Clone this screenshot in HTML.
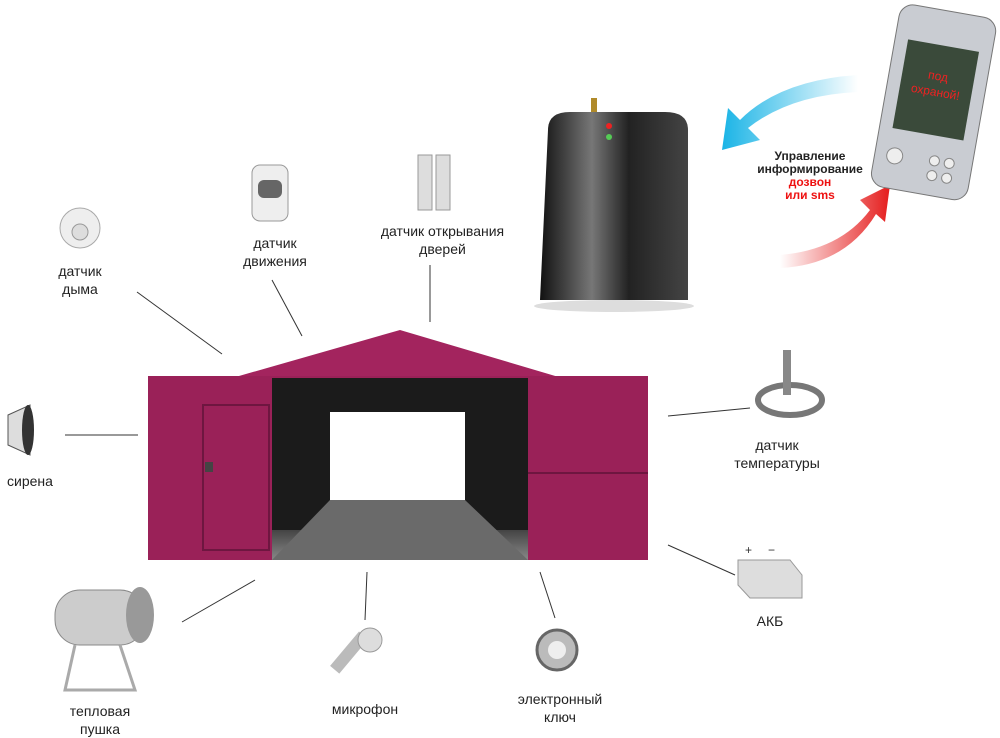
<!DOCTYPE html>
<html><head><meta charset="utf-8"><style>
body{margin:0;width:1000px;height:737px;background:#fff;position:relative;overflow:hidden;font-family:"Liberation Sans","Noto Sans CJK SC",sans-serif}
.a{position:absolute}
.t{position:absolute;font-size:14px;color:#222;text-align:center;line-height:18px}
</style></head><body>
<svg class="a" style="left:0;top:0" width="1000" height="737">
<defs>
<linearGradient id="box" x1="0" x2="1"><stop offset="0" stop-color="#111"/><stop offset=".35" stop-color="#777"/><stop offset=".6" stop-color="#222"/><stop offset="1" stop-color="#444"/></linearGradient>
<linearGradient id="cy" x1="1" x2="0"><stop offset="0" stop-color="#fff"/><stop offset="1" stop-color="#1ab4e6"/></linearGradient>
<linearGradient id="rd" x1="0" x2="1"><stop offset="0" stop-color="#fff"/><stop offset="1" stop-color="#e51d1d"/></linearGradient>
<linearGradient id="fl" x1="0" y1="0" x2="0" y2="1"><stop offset="0" stop-color="#444"/><stop offset="1" stop-color="#888"/></linearGradient>
</defs>
<!-- lines -->
<g stroke="#333" stroke-width="1">
<line x1="137" y1="292" x2="222" y2="354"/>
<line x1="272" y1="280" x2="302" y2="336"/>
<line x1="430" y1="265" x2="430" y2="322"/>
<line x1="65" y1="435" x2="138" y2="435"/>
<line x1="668" y1="416" x2="750" y2="408"/>
<line x1="668" y1="545" x2="735" y2="575"/>
<line x1="540" y1="572" x2="555" y2="618"/>
<line x1="367" y1="572" x2="365" y2="620"/>
<line x1="255" y1="580" x2="182" y2="622"/>
</g>
<!-- garage -->
<polygon points="232,378 400,330 562,378" fill="#a3245e"/>
<rect x="148" y="376" width="500" height="184" fill="#9a2158"/>
<rect x="272" y="378" width="256" height="182" fill="#1b1b1b"/>
<polygon points="272,530 528,530 528,560 272,560" fill="url(#fl)"/>
<polygon points="330,500 465,500 528,560 272,560" fill="#6a6a6a"/>
<rect x="330" y="412" width="135" height="88" fill="#fff"/>
<rect x="203" y="405" width="66" height="145" fill="none" stroke="#6e1640" stroke-width="2"/>
<line x1="528" y1="473" x2="648" y2="473" stroke="#6e1640" stroke-width="2"/>
<rect x="205" y="462" width="8" height="10" fill="#444"/>
<!-- alarm box -->
<rect x="591" y="98" width="6" height="16" fill="#b08a2a"/>
<path d="M548,130 Q548,112 570,112 L665,112 Q688,112 688,130 L688,300 L540,300 Z" fill="url(#box)"/>
<ellipse cx="614" cy="306" rx="80" ry="6" fill="#ddd"/>
<circle cx="609" cy="126" r="3" fill="#e22"/><circle cx="609" cy="137" r="3" fill="#5c5"/>
<!-- arrows -->
<path d="M858,75 Q780,80 740,120 L728,108 L722,150 L760,140 L748,128 Q790,95 858,92 Z" fill="url(#cy)"/>
<path d="M780,255 Q840,250 870,210 L860,200 L890,185 L885,222 L876,214 Q845,265 780,268 Z" fill="url(#rd)"/>
<!-- phone -->
<g transform="rotate(10 935 100)">
<rect x="885" y="10" width="98" height="185" rx="14" fill="#c9ccd2" stroke="#777"/>
<rect x="898" y="45" width="72" height="90" fill="#3a4a3a"/>
<circle cx="905" cy="162" r="8" fill="#eee" stroke="#888"/>
<circle cx="945" cy="160" r="5" fill="#eee" stroke="#888"/><circle cx="960" cy="160" r="5" fill="#eee" stroke="#888"/>
<circle cx="945" cy="175" r="5" fill="#eee" stroke="#888"/><circle cx="960" cy="175" r="5" fill="#eee" stroke="#888"/>
<text x="934" y="80" fill="#e22" font-size="12" text-anchor="middle" font-family="Liberation Sans">под</text>
<text x="934" y="96" fill="#e22" font-size="12" text-anchor="middle" font-family="Liberation Sans">охраной!</text>
</g>
<!-- icons -->
<circle cx="80" cy="228" r="20" fill="#eee" stroke="#aaa"/><circle cx="80" cy="232" r="8" fill="#ddd" stroke="#999"/>
<rect x="252" y="165" width="36" height="56" rx="8" fill="#eee" stroke="#999"/><rect x="258" y="180" width="24" height="18" rx="6" fill="#666"/>
<rect x="418" y="155" width="14" height="55" fill="#ddd" stroke="#999"/><rect x="436" y="155" width="14" height="55" fill="#ddd" stroke="#999"/>
<path d="M8,415 L30,405 L30,455 L8,445 Z" fill="#ddd" stroke="#555"/><ellipse cx="28" cy="430" rx="6" ry="25" fill="#333"/>
<ellipse cx="790" cy="400" rx="32" ry="15" fill="none" stroke="#777" stroke-width="6"/><rect x="783" y="350" width="8" height="45" fill="#888"/>
<path d="M738,560 L790,560 L802,575 L802,598 L750,598 L738,585 Z" fill="#ddd" stroke="#999"/>
<text x="745" y="554" font-size="12" fill="#333">+</text><text x="768" y="554" font-size="12" fill="#333">−</text>
<circle cx="557" cy="650" r="20" fill="#bbb" stroke="#666" stroke-width="3"/><circle cx="557" cy="650" r="9" fill="#eee"/>
<rect x="345" y="630" width="12" height="45" fill="#bbb" transform="rotate(40 350 650)"/><circle cx="370" cy="640" r="12" fill="#ddd" stroke="#999"/>
<rect x="55" y="590" width="90" height="55" rx="25" fill="#ccc" stroke="#888"/><ellipse cx="140" cy="615" rx="14" ry="28" fill="#999"/>
<path d="M75,645 L65,690 L135,690 L120,645" fill="none" stroke="#aaa" stroke-width="3"/>
</svg>
<div class="t" style="left:40px;top:262px;width:80px">датчик<br>дыма</div>
<div class="t" style="left:225px;top:234px;width:100px">датчик<br>движения</div>
<div class="t" style="left:365px;top:222px;width:155px">датчик открывания<br>дверей</div>
<div class="t" style="left:0px;top:472px;width:60px">сирена</div>
<div class="t" style="left:712px;top:436px;width:130px">датчик<br>температуры</div>
<div class="t" style="left:740px;top:612px;width:60px">АКБ</div>
<div class="t" style="left:505px;top:690px;width:110px">электронный<br>ключ</div>
<div class="t" style="left:315px;top:700px;width:100px">микрофон</div>
<div class="t" style="left:50px;top:702px;width:100px">тепловая<br>пушка</div>
<div class="t" style="left:745px;top:150px;width:130px;font-size:12px;font-weight:bold;line-height:13px">Управление<br>информирование<br><span style="color:#e11">дозвон<br>или sms</span></div>
</body></html>
